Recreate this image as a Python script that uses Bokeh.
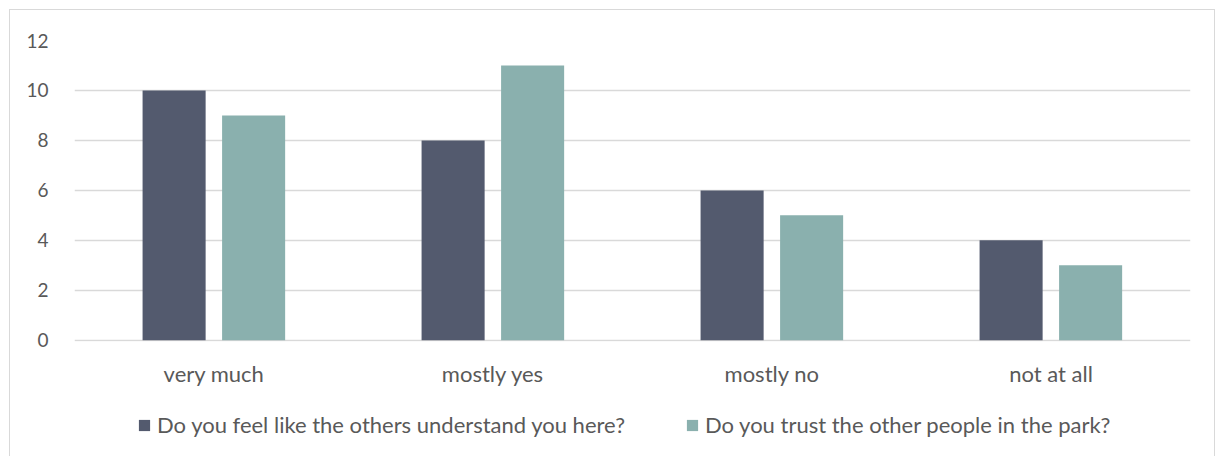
from bokeh.plotting import figure
from bokeh.layouts import column
from bokeh.models import ColumnDataSource, Range1d, FactorRange, Legend, LegendItem
from bokeh.transform import dodge
from bokeh.embed import file_html
from bokeh.resources import INLINE

categories = ["very much", "mostly yes", "mostly no", "not at all"]
understand = [10, 8, 6, 4]
trust = [9, 11, 5, 3]
series_names = ["Do you feel like the others understand you here?",
                "Do you trust the other people in the park?"]
y_ticks = [0, 2, 4, 6, 8, 10, 12]
colors = ["#535a6e", "#8ab0ae"]

FONT = "Lato"
TXT = "#595959"

src = ColumnDataSource(data=dict(cat=categories, understand=understand, trust=trust))

p = figure(x_range=FactorRange(*categories, range_padding=0), y_range=Range1d(-0.05, 12),
           width=1204, height=380, output_backend="svg", toolbar_location=None,
           min_border_left=64, min_border_right=24, min_border_top=30, min_border_bottom=49)
p.outline_line_color = None

r1 = p.vbar(x=dodge("cat", -0.143, range=p.x_range), top="understand", width=0.226,
            source=src, color=colors[0], line_color=None)
r2 = p.vbar(x=dodge("cat", 0.142, range=p.x_range), top="trust", width=0.226,
            source=src, color=colors[1], line_color=None)

p.yaxis.ticker = y_ticks
p.yaxis.axis_line_color = None
p.yaxis.major_tick_line_color = None
p.yaxis.minor_tick_line_color = None
p.yaxis.major_label_text_font = FONT
p.yaxis.major_label_text_font_size = "19px"
p.yaxis.major_label_text_color = TXT
p.yaxis.major_label_standoff = 20

p.xaxis.axis_line_color = None
p.xaxis.major_tick_line_color = None
p.xaxis.major_label_text_font = FONT
p.xaxis.major_label_text_font_size = "22px"
p.xaxis.major_label_text_color = TXT
p.xaxis.major_label_standoff = 12

p.xgrid.grid_line_color = None
p.ygrid.grid_line_color = "#d9d9d9"
p.ygrid.grid_line_width = 1.3

# legend strip below the chart (its own renderers lie outside its visible range,
# they only provide the legend swatches)
lg = figure(width=1204, height=66, output_backend="svg", toolbar_location=None,
            x_range=Range1d(-1, 0), y_range=Range1d(-1, 0),
            min_border_left=0, min_border_right=0, min_border_top=0, min_border_bottom=0)
lg.axis.visible = False
lg.grid.visible = False
lg.outline_line_color = None
d1 = lg.vbar(x="understand", top="understand", width=0.1, source=src,
             color=colors[0], line_color=None)
d2 = lg.vbar(x="trust", top="trust", width=0.1, source=src,
             color=colors[1], line_color=None)

legend = Legend(items=[LegendItem(label=series_names[0], renderers=[d1]),
                       LegendItem(label=series_names[1], renderers=[d2])],
                orientation="horizontal", location=(63, 18),
                label_text_font=FONT, label_text_font_size="22px", label_text_color=TXT,
                glyph_width=14, glyph_height=14, label_standoff=6, spacing=60,
                border_line_color=None, background_fill_alpha=0, margin=0, padding=0)
lg.add_layout(legend, "center")

layout = column(p, lg, spacing=0)
layout.styles = {"position": "absolute", "left": "10px", "top": "10px",
                 "outline": "1px solid #d9d9d9"}

open("out.html", "w").write(file_html(layout, INLINE))
